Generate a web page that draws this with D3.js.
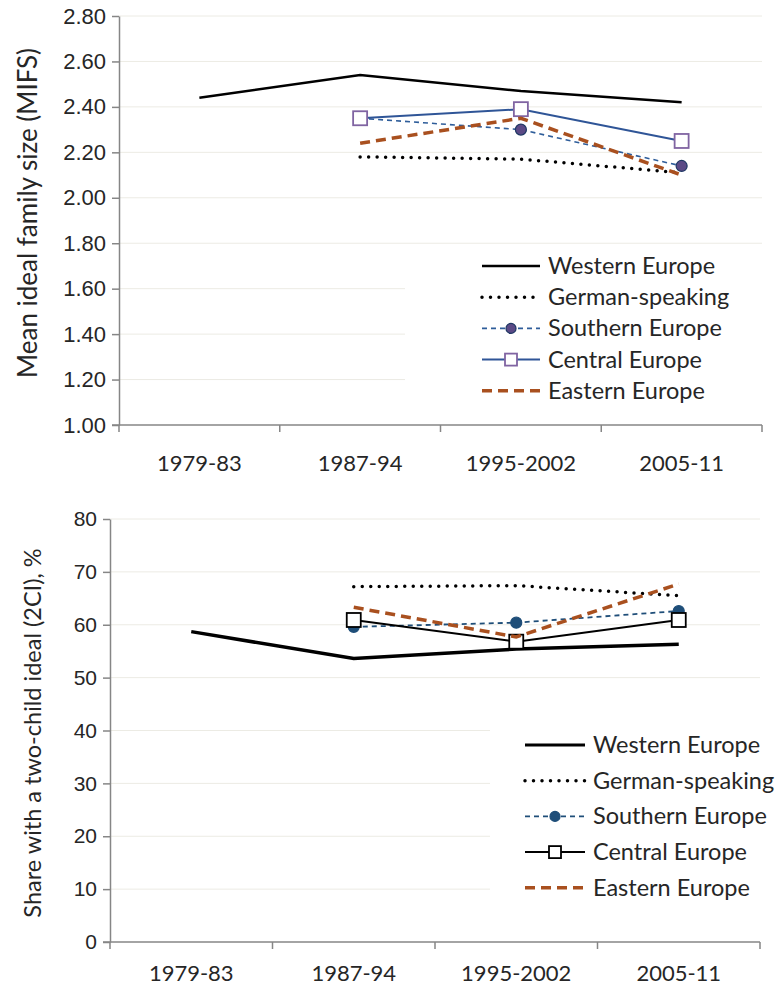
<!DOCTYPE html>
<html>
<head>
<meta charset="utf-8">
<script src="https://cdn.jsdelivr.net/npm/d3@7"></script>
<style>
  body { margin: 0; background: #fff; }
  svg { display: block; font-family: Lato, "Liberation Sans", sans-serif; }
  .axis path, .axis line { stroke: #868686; stroke-width: 1.5; }
  .axis text { fill: #262626; }
  .grid line { stroke: #ecebe4; stroke-width: 1; }
</style>
</head>
<body>
<svg id="chart" width="778" height="989"></svg>
<script>
// periods on the x axis
const periods = ["1979-83", "1987-94", "1995-2002", "2005-11"];
const regions = ["Western Europe", "German-speaking", "Southern Europe", "Central Europe", "Eastern Europe"];

// mean ideal family size (top panel), null = no survey
const mifsWestern  = [2.44, 2.54, 2.47, 2.42];
const mifsGerman   = [null, 2.18, 2.17, 2.11];
const mifsSouthern = [null, 2.35, 2.30, 2.14];
const mifsCentral  = [null, 2.35, 2.39, 2.25];
const mifsEastern  = [null, 2.24, 2.35, 2.10];
const mifsTicks = [1.0, 1.2, 1.4, 1.6, 1.8, 2.0, 2.2, 2.4, 2.6, 2.8];

// share with a two-child ideal, % (bottom panel)
const shareWestern  = [58.7, 53.6, 55.4, 56.3];
const shareGerman   = [null, 67.2, 67.4, 65.5];
const shareSouthern = [null, 59.6, 60.4, 62.6];
const shareCentral  = [null, 60.9, 56.8, 60.9];
const shareEastern  = [null, 63.3, 57.7, 67.7];
const shareTicks = [0, 10, 20, 30, 40, 50, 60, 70, 80];

const svg = d3.select("#chart");

function translate(x, y) { return "translate(" + x + "," + y + ")"; }

function panel(opts) {
  const x = d3.scaleBand().domain(periods).range([opts.left, opts.right]);
  const y = d3.scaleLinear().domain(opts.domain).range([opts.bottom, opts.top]);
  const g = svg.append("g");

  // gridlines
  g.append("g").attr("class", "grid")
    .selectAll("line").data(opts.ticks.slice(1)).enter().append("line")
    .attr("x1", opts.left).attr("x2", opts.right)
    .attr("y1", d => y(d)).attr("y2", d => y(d));

  // y axis
  g.append("g").attr("class", "axis")
    .attr("transform", translate(opts.left, 0))
    .call(d3.axisLeft(y).tickValues(opts.ticks).tickFormat(opts.fmt).tickSize(7).tickPadding(6).tickSizeOuter(0))
    .selectAll("text").style("font-size", opts.tickFont + "px");

  // x axis with ticks at band edges
  const xa = g.append("g").attr("class", "axis")
    .attr("transform", translate(0, opts.bottom));
  xa.append("line").attr("x1", opts.left - 7).attr("x2", opts.right);
  xa.selectAll(".edge").data(periods.concat(["end"])).enter().append("line")
    .attr("class", "edge")
    .attr("x1", (d, i) => opts.left + i * x.bandwidth())
    .attr("x2", (d, i) => opts.left + i * x.bandwidth())
    .attr("y1", 0).attr("y2", 7);
  xa.selectAll("text").data(periods).enter().append("text")
    .attr("x", d => x(d) + x.bandwidth() / 2)
    .attr("y", opts.labelY)
    .attr("text-anchor", "middle")
    .style("font-size", "22px")
    .text(d => d);

  // axis title
  g.append("text")
    .attr("transform", translate(opts.titleX, opts.titleY) + " rotate(-90)")
    .attr("text-anchor", "middle")
    .attr("fill", "#262626")
    .style("font-size", opts.titleFont + "px")
    .text(opts.title);

  const cx = d => x(d) + x.bandwidth() / 2;

  // legend background (hides the gridlines behind it)
  const lg = opts.legend;
  g.append("rect").attr("x", lg.boxX).attr("y", lg.y - 18)
    .attr("width", opts.right - lg.boxX + 2).attr("height", lg.step * 5 + 6)
    .attr("fill", "#fff");

  opts.series.forEach(function(s, k) {
    const pts = periods.map((p, i) => [p, s.values[i]]).filter(d => d[1] != null);
    const line = d3.line().x(d => cx(d[0])).y(d => y(d[1]));
    g.append("path")
      .attr("d", line(pts))
      .attr("fill", "none")
      .attr("stroke", s.color)
      .attr("stroke-width", s.width)
      .attr("stroke-dasharray", s.dash)
      .attr("stroke-linecap", s.cap || "butt");
    drawMarkers(g, s, pts.map(d => [cx(d[0]), y(d[1])]));

    // legend entry
    const ly = lg.y + k * lg.step;
    g.append("line")
      .attr("x1", lg.x).attr("x2", lg.x + lg.len)
      .attr("y1", ly).attr("y2", ly)
      .attr("stroke", s.color)
      .attr("stroke-width", s.legWidth || s.width)
      .attr("stroke-dasharray", s.dash)
      .attr("stroke-linecap", s.cap || "butt");
    drawMarkers(g, s, [[lg.x + lg.len / 2, ly]], true);
    g.append("text")
      .attr("x", lg.x + lg.len + 8).attr("y", ly + 8)
      .attr("fill", "#262626").style("font-size", "23.5px")
      .text(regions[k]);
  });
}

function drawMarkers(g, s, pts, small) {
  if (s.marker === "circle") {
    g.selectAll(null).data(pts).enter().append("circle")
      .attr("cx", d => d[0]).attr("cy", d => d[1])
      .attr("r", small ? 5 : 5.5)
      .attr("fill", s.mfill).attr("stroke", s.mstroke).attr("stroke-width", 1.2);
  } else if (s.marker === "square") {
    const h = small ? 6 : 7;
    g.selectAll(null).data(pts).enter().append("rect")
      .attr("x", d => d[0] - h).attr("y", d => d[1] - h)
      .attr("width", 2 * h).attr("height", 2 * h)
      .attr("fill", "#fff").attr("stroke", s.mstroke).attr("stroke-width", 1.8);
  }
}

// top panel
panel({
  left: 119, right: 762, top: 16, bottom: 425,
  domain: [1, 2.8], ticks: mifsTicks, fmt: d3.format(".2f"), tickFont: 22,
  title: "Mean ideal family size (MIFS)", titleX: 37, titleY: 213, titleFont: 26,
  labelY: 46,
  legend: { x: 482, y: 266, step: 31.2, len: 58, boxX: 405 },
  series: [
    { values: mifsWestern, color: "#000", width: 2.5 },
    { values: mifsGerman, color: "#000", width: 3.5, dash: "0,8.5", cap: "round" },
    { values: mifsSouthern, color: "#2e5d9a", width: 1.6, dash: "5,4",
      marker: "circle", mfill: "#5b4a86", mstroke: "#1f3864" },
    { values: mifsCentral, color: "#2f5597", width: 2,
      marker: "square", mstroke: "#8064a2" },
    { values: mifsEastern, color: "#a9501f", width: 3.5, dash: "10,6" }
  ]
});

// bottom panel
panel({
  left: 110, right: 760, top: 519, bottom: 942,
  domain: [0, 80], ticks: shareTicks, fmt: d3.format("d"), tickFont: 21,
  title: "Share with a two-child ideal (2CI), %", titleX: 41, titleY: 733, titleFont: 23.5,
  labelY: 39,
  legend: { x: 525, y: 745, step: 35.7, len: 60, boxX: 490 },
  series: [
    { values: shareWestern, color: "#000", width: 3.5, legWidth: 3 },
    { values: shareGerman, color: "#000", width: 3.5, dash: "0,8.5", cap: "round" },
    { values: shareSouthern, color: "#1f4e79", width: 1.8, dash: "5,4",
      marker: "circle", mfill: "#1f4e79", mstroke: "#1f4e79" },
    { values: shareCentral, color: "#000", width: 2,
      marker: "square", mstroke: "#000" },
    { values: shareEastern, color: "#a9501f", width: 3.5, dash: "10,6" }
  ]
});
</script>
</body>
</html>
